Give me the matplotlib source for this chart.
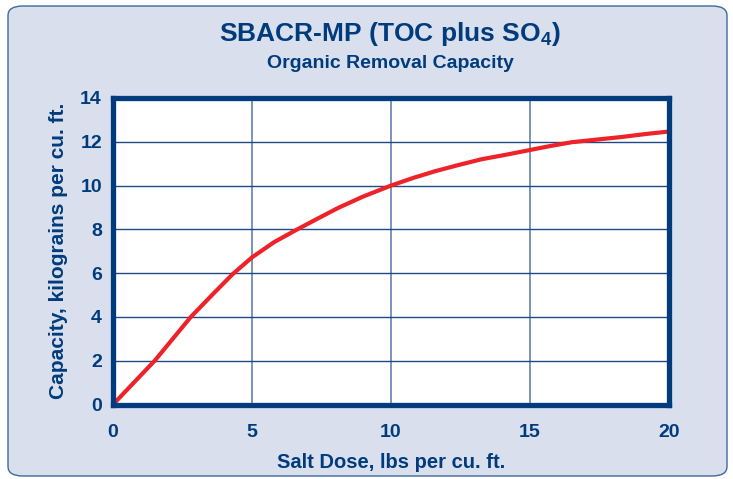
import matplotlib
matplotlib.use("Agg")
import matplotlib.pyplot as plt
from matplotlib.patches import FancyBboxPatch
from matplotlib import font_manager

salt_dose = [0, 0.6, 1.5, 2.15, 2.8, 3.6, 4.3, 5.0, 5.8, 6.6, 7.3, 8.1, 9.0,
             10.0, 10.8, 11.6, 12.4, 13.25, 14.1, 14.9, 15.7, 16.5, 17.4,
             18.3, 19.2, 20.0]
capacity = [0, 0.8, 2.0, 3.0, 4.0, 5.05, 5.95, 6.72, 7.42, 7.98, 8.45, 8.98,
            9.5, 10.0, 10.35, 10.66, 10.93, 11.2, 11.4, 11.6, 11.8, 11.98,
            12.1, 12.22, 12.36, 12.47]
x_ticks = [0, 5, 10, 15, 20]
y_ticks = [0, 2, 4, 6, 8, 10, 12, 14]

names = {f.name for f in font_manager.fontManager.ttflist}
fam = "Liberation Sans Narrow" if "Liberation Sans Narrow" in names else "Liberation Sans"
plt.rcParams['font.family'] = [fam, 'DejaVu Sans']

navy = "#003c7d"
bg = "#d9dfec"

fig = plt.figure(figsize=(7.33, 4.79), dpi=100)
fig.patch.set_facecolor("white")
box = FancyBboxPatch((8/733, 3/479), 719/733, 470/479,
                     boxstyle="round,pad=0,rounding_size=0.02",
                     transform=fig.transFigure, facecolor=bg,
                     edgecolor="#3d6a9c", linewidth=1.0, zorder=-10)
fig.patches.append(box)

ax = fig.add_axes([113/733, 1 - 404.5/479, 556/733, 306.5/479])
ax.set_zorder(5)
ax.set_facecolor("white")
ax.plot(salt_dose, capacity, color="#ee2229", linewidth=3.0, zorder=3,
        solid_capstyle="butt", solid_joinstyle="round")
ax.set_xlim(0, 20)
ax.set_ylim(0, 14)
ax.set_xticks(x_ticks)
ax.set_yticks(y_ticks)
ax.set_xticklabels([str(v) for v in x_ticks])
ax.set_yticklabels([str(v) for v in y_ticks])
for v in x_ticks[1:-1]:
    ax.axvline(v, color="#6d8db4", linewidth=1.3, zorder=1)
for v in y_ticks[1:-1]:
    ax.axhline(v, color="#1d4a82", linewidth=1.0, zorder=1)
for s in ax.spines.values():
    s.set_color(navy)
    s.set_linewidth(3.8)
    s.set_zorder(4)
ax.tick_params(axis="x", length=0, labelsize=14, colors=navy, pad=14)
ax.tick_params(axis="y", length=0, labelsize=14, colors=navy, pad=8)
for lab in ax.get_xticklabels() + ax.get_yticklabels():
    lab.set_fontweight("bold")
ax.set_xlabel("Salt Dose, lbs per cu. ft.", fontsize=14.5, fontweight="bold",
              color=navy, labelpad=9)
ax.set_ylabel("Capacity, kilograins per cu. ft.", fontsize=15, fontweight="bold",
              color=navy, labelpad=9)

cx = 390 / 733
fig.text(cx, 1 - 34/479, r"SBACR-MP (TOC plus SO$_\mathregular{4}$)", ha="center",
         va="center", fontsize=19, fontweight="bold", color=navy)
fig.text(cx, 1 - 63/479, "Organic Removal Capacity", ha="center", va="center",
         fontsize=14, fontweight="bold", color=navy)

fig.savefig("out.png", dpi=100, facecolor=fig.get_facecolor())
